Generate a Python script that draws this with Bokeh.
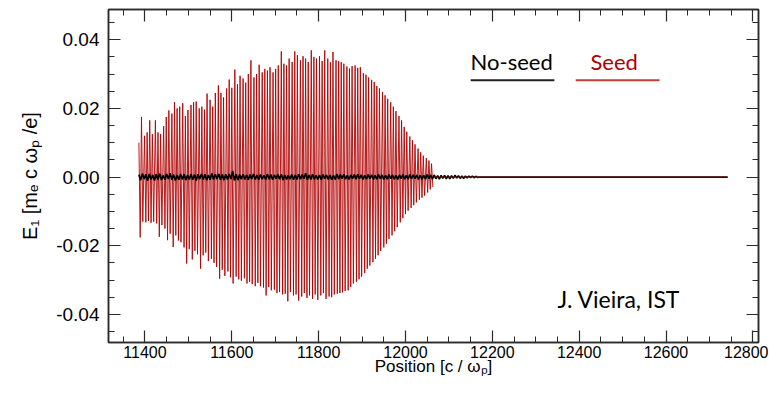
from bokeh.plotting import figure
from bokeh.models import (Range1d, SingleIntervalTicker, LinearAxis, NumeralTickFormatter,
                          Label, BoxAnnotation, CustomJSTickFormatter)
from bokeh.embed import file_html
from bokeh.resources import INLINE

# ---- Seed run: crest / trough positions and field values ----
crest_x = [11386, 11392, 11399, 11405, 11411, 11417, 11424, 11430, 11436, 11443,
           11449, 11455, 11462, 11468, 11474, 11480, 11487, 11493, 11499, 11506,
           11512, 11518, 11525, 11531, 11537, 11543, 11550, 11556, 11562, 11569,
           11575, 11581, 11588, 11594, 11600, 11607, 11613, 11619, 11626, 11632,
           11638, 11644, 11651, 11657, 11663, 11670, 11676, 11682, 11688, 11695,
           11701, 11707, 11714, 11720, 11726, 11732, 11739, 11745, 11751, 11758,
           11764, 11770, 11776, 11783, 11789, 11795, 11802, 11808, 11814, 11821,
           11827, 11833, 11840, 11846, 11852, 11858, 11865, 11871, 11877, 11884,
           11890, 11896, 11903, 11909, 11915, 11922, 11928, 11934, 11940, 11947,
           11953, 11959, 11966, 11972, 11978, 11985, 11991, 11997, 12003, 12010,
           12016, 12022, 12029, 12035, 12041, 12048, 12054, 12060]
crest_e = [0.0100, 0.0175, 0.0120, 0.0130, 0.0165, 0.0125, 0.0165, 0.0130, 0.0125, 0.0148,
           0.0175, 0.0194, 0.0185, 0.0218, 0.0200, 0.0205, 0.0215, 0.0178, 0.0195, 0.0210,
           0.0218, 0.0220, 0.0200, 0.0205, 0.0196, 0.0243, 0.0225, 0.0205, 0.0245, 0.0267,
           0.0245, 0.0232, 0.0258, 0.0284, 0.0260, 0.0313, 0.0270, 0.0295, 0.0287, 0.0275,
           0.0300, 0.0340, 0.0290, 0.0300, 0.0327, 0.0305, 0.0315, 0.0310, 0.0320, 0.0305,
           0.0315, 0.0325, 0.0366, 0.0330, 0.0325, 0.0345, 0.0335, 0.0366, 0.0355, 0.0340,
           0.0352, 0.0345, 0.0335, 0.0369, 0.0350, 0.0345, 0.0352, 0.0338, 0.0369, 0.0345,
           0.0334, 0.0364, 0.0340, 0.0338, 0.0335, 0.0330, 0.0322, 0.0316, 0.0323, 0.0325,
           0.0318, 0.0320, 0.0303, 0.0298, 0.0290, 0.0283, 0.0277, 0.0265, 0.0258, 0.0248,
           0.0238, 0.0228, 0.0218, 0.0205, 0.0192, 0.0178, 0.0165, 0.0146, 0.0132, 0.0118,
           0.0107, 0.0095, 0.0083, 0.0072, 0.0062, 0.0055, 0.0048, 0.0039]
trough_x = [11389, 11395, 11402, 11408, 11414, 11420, 11427, 11433, 11439, 11446,
            11452, 11458, 11465, 11471, 11477, 11483, 11490, 11496, 11502, 11509,
            11515, 11521, 11528, 11534, 11540, 11546, 11553, 11559, 11565, 11572,
            11578, 11584, 11591, 11597, 11603, 11610, 11616, 11622, 11629, 11635,
            11641, 11647, 11654, 11660, 11666, 11673, 11679, 11685, 11691, 11698,
            11704, 11710, 11717, 11723, 11729, 11735, 11742, 11748, 11754, 11761,
            11767, 11773, 11779, 11786, 11792, 11798, 11805, 11811, 11817, 11824,
            11830, 11836, 11843, 11849, 11855, 11861, 11868, 11874, 11880, 11887,
            11893, 11899, 11906, 11912, 11918, 11925, 11931, 11937, 11943, 11950,
            11956, 11962, 11969, 11975, 11981, 11988, 11994, 12000, 12006, 12013,
            12019, 12025, 12032, 12038, 12044, 12051, 12057, 12063]
trough_e = [-0.0176, -0.0130, -0.0132, -0.0128, -0.0133, -0.0130, -0.0135, -0.0174, -0.0140, -0.0150,
            -0.0184, -0.0165, -0.0204, -0.0170, -0.0185, -0.0190, -0.0205, -0.0252, -0.0210, -0.0240,
            -0.0215, -0.0225, -0.0267, -0.0228, -0.0220, -0.0245, -0.0238, -0.0250, -0.0262, -0.0296,
            -0.0270, -0.0288, -0.0275, -0.0292, -0.0310, -0.0290, -0.0298, -0.0302, -0.0295, -0.0310,
            -0.0305, -0.0312, -0.0318, -0.0308, -0.0318, -0.0322, -0.0345, -0.0320, -0.0330, -0.0328,
            -0.0338, -0.0335, -0.0342, -0.0340, -0.0362, -0.0335, -0.0345, -0.0342, -0.0360, -0.0348,
            -0.0338, -0.0352, -0.0345, -0.0355, -0.0342, -0.0358, -0.0345, -0.0338, -0.0355, -0.0348,
            -0.0350, -0.0342, -0.0340, -0.0338, -0.0336, -0.0332, -0.0330, -0.0320, -0.0310, -0.0305,
            -0.0298, -0.0290, -0.0280, -0.0267, -0.0258, -0.0248, -0.0238, -0.0228, -0.0215, -0.0205,
            -0.0194, -0.0180, -0.0170, -0.0158, -0.0146, -0.0132, -0.0120, -0.0108, -0.0098, -0.0090,
            -0.0082, -0.0074, -0.0066, -0.0060, -0.0054, -0.0045, -0.0036, -0.0029]
tail_x = [12066, 12742]
tail_e = [0.0, 0.0]

# ---- No-seed run: small noisy field (values in units of 1e-4) ----
noise_x = [11386, 11390, 11394, 11398, 11402, 11406, 11410, 11414, 11418, 11422,
           11426, 11430, 11434, 11438, 11442, 11446, 11450, 11454, 11458, 11462,
           11466, 11470, 11474, 11478, 11482, 11486, 11490, 11494, 11498, 11502,
           11506, 11510, 11514, 11518, 11522, 11526, 11530, 11534, 11538, 11542,
           11546, 11550, 11554, 11558, 11562, 11566, 11570, 11574, 11578, 11582,
           11586, 11590, 11594, 11598, 11602, 11606, 11610, 11614, 11618, 11622,
           11626, 11630, 11634, 11638, 11642, 11646, 11650, 11654, 11658, 11662,
           11666, 11670, 11674, 11678, 11682, 11686, 11690, 11694, 11698, 11702,
           11706, 11710, 11714, 11718, 11722, 11726, 11730, 11734, 11738, 11742,
           11746, 11750, 11754, 11758, 11762, 11766, 11770, 11774, 11778, 11782,
           11786, 11790, 11794, 11798, 11802, 11806, 11810, 11814, 11818, 11822,
           11826, 11830, 11834, 11838, 11842, 11846, 11850, 11854, 11858, 11862,
           11866, 11870, 11874, 11878, 11882, 11886, 11890, 11894, 11898, 11902,
           11906, 11910, 11914, 11918, 11922, 11926, 11930, 11934, 11938, 11942,
           11946, 11950, 11954, 11958, 11962, 11966, 11970, 11974, 11978, 11982,
           11986, 11990, 11994, 11998, 12002, 12006, 12010, 12014, 12018, 12022,
           12026, 12030, 12034, 12038, 12042, 12046, 12050, 12054, 12058, 12062,
           12066, 12070, 12074, 12078, 12082, 12086, 12090, 12094, 12098, 12102,
           12106, 12110, 12114, 12118, 12122, 12126, 12130, 12134, 12138, 12142,
           12146, 12150, 12154, 12158, 12162, 12166, 12170, 12742]
noise_e4 = [7, -9, 10, -6, 8, -11, 9, -7, 6, -10,
            8, -7, 10, -9, 5, -8, 9, -6, 11, -8,
            7, -10, 6, -8, 9, -7, 8, -9, 6, -7,
            9, -8, 7, -10, 8, -6, 9, -7, 8, -9,
            6, -8, 10, -7, 8, -6, 9, -8, 7, -9,
            8, -7, 9, -6, 18, -10, 8, -9, 7, -6,
            8, -7, 6, -8, 7, -6, 9, -7, 6, -8,
            7, -6, 5, -7, 8, -6, 7, -8, 6, -5,
            7, -6, 8, -9, 6, -7, 5, -6, 7, -8,
            6, -7, 8, -6, 7, -5, 11, -8, 6, -7,
            8, -6, 5, -7, 6, -8, 7, -5, 6, -7,
            6, -8, 5, -7, 9, -6, 7, -5, 8, -6,
            5, -7, 6, -5, 7, -6, 8, -5, 6, -7,
            5, -6, 7, -5, 6, -7, 5, -6, 7, -5,
            6, -7, 5, -6, 7, -5, 6, -6, 5, -7,
            6, -5, 7, -6, 5, -6, 7, -5, 6, -5,
            6, -7, 5, -6, 5, -6, 7, -5, 6, -6,
            6, -5, 4, -6, 5, -4, 5, -5, 4, -5,
            4, -4, 5, -3, 4, -4, 3, -4, 3, -3,
            3, -2, 3, -2, 2, -1, 0, 0]

x_tick_step = 200
y_tick_step = 0.02

# build the seed polyline (crest, trough, crest, ...)
seed_x, seed_e = [], []
for cx, ce, tx, te in zip(crest_x, crest_e, trough_x, trough_e):
    seed_x += [cx, tx]
    seed_e += [ce, te]
noise_e = [v * 1e-4 for v in noise_e4]

AX = "#2a2a2a"
p = figure(width=768, height=392, x_range=Range1d(11316, 12813), y_range=Range1d(-0.0482, 0.0488),
           output_backend="svg", toolbar_location=None,
           min_border_left=108, min_border_right=10, min_border_top=9, min_border_bottom=50)
p.xgrid.visible = False
p.ygrid.visible = False
p.outline_line_color = AX
p.outline_line_width = 1.5
p.background_fill_color = "white"
p.border_fill_color = "white"

# signals
p.line(seed_x, seed_e, line_color="#b00000", line_width=0.9)
p.line(noise_x, noise_e, line_color="black", line_width=1.7)
p.line(tail_x, tail_e, line_color="#a00000", line_width=1.2, line_alpha=0.6)


def style(ax, ticker):
    ax.ticker = ticker
    ax.axis_line_color = AX
    ax.axis_line_width = 1.5
    ax.major_tick_line_color = AX
    ax.minor_tick_line_color = AX
    ax.major_tick_line_width = 1.2
    ax.minor_tick_line_width = 1.0
    ax.major_tick_in = 12
    ax.major_tick_out = 0
    ax.minor_tick_in = 6
    ax.minor_tick_out = 0


xa = p.xaxis[0]
style(xa, SingleIntervalTicker(interval=x_tick_step, num_minor_ticks=4))
xa.axis_label = "Position [c / ωₚ]"
xa.axis_label_text_font = "Liberation Sans"
xa.axis_label_text_font_size = "17px"
xa.axis_label_text_font_style = "normal"
xa.axis_label_text_color = "black"
xa.axis_label_standoff = -4
xa.major_label_text_font = "Liberation Sans"
xa.major_label_text_font_size = "16px"
xa.major_label_text_color = "black"
xa.major_label_standoff = 3

ya = p.yaxis[0]
style(ya, SingleIntervalTicker(interval=y_tick_step, num_minor_ticks=4))
ya.formatter = NumeralTickFormatter(format="0.00")
ya.axis_label = "E₁ [mₑ c ωₚ /e]"
ya.axis_label_text_font = "Liberation Sans"
ya.axis_label_text_font_size = "20px"
ya.axis_label_text_font_style = "normal"
ya.axis_label_text_color = "black"
ya.axis_label_standoff = 12
ya.major_label_text_font = "Liberation Sans"
ya.major_label_text_font_size = "19px"
ya.major_label_text_color = "black"
ya.major_label_standoff = 9

blank = "return ''"
top = LinearAxis(formatter=CustomJSTickFormatter(code=blank), major_label_standoff=0)
style(top, SingleIntervalTicker(interval=x_tick_step, num_minor_ticks=4))
p.add_layout(top, "above")
right = LinearAxis(formatter=CustomJSTickFormatter(code=blank), major_label_standoff=0)
style(right, SingleIntervalTicker(interval=y_tick_step, num_minor_ticks=4))
p.add_layout(right, "right")

# legend-like labels with underlines
p.add_layout(Label(x=12150, y=0.0337, text="No-seed", text_font="Lato", text_font_size="22px",
                   text_color="black", text_baseline="alphabetic"))
p.add_layout(BoxAnnotation(left=12150, right=12343, bottom=0.0279, top=0.0285,
                           fill_color="#222222", fill_alpha=1, line_color=None))
p.add_layout(Label(x=12426, y=0.0337, text="Seed", text_font="Lato", text_font_size="22px",
                   text_color="#b00000", text_baseline="alphabetic"))
p.add_layout(BoxAnnotation(left=12392, right=12585, bottom=0.0279, top=0.0285,
                           fill_color="#c43c3c", fill_alpha=1, line_color=None))
p.add_layout(Label(x=12350, y=-0.0356, text="J. Vieira, IST", text_font="Lato", text_font_size="23px",
                   text_color="black", text_baseline="alphabetic"))

open("out.html", "w").write(file_html(p, INLINE))
